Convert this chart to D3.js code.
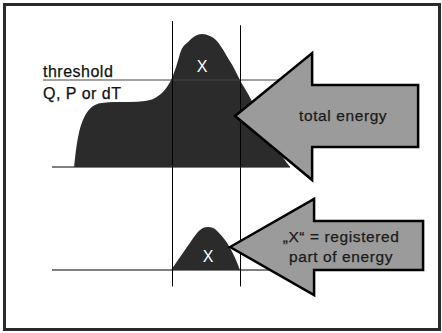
<!DOCTYPE html>
<html>
<head>
<meta charset="utf-8">
<script src="https://cdn.jsdelivr.net/npm/d3@7"></script>
<style>
  body { margin: 0; background: #fff; }
  svg text { font-family: "Liberation Sans", Arial, sans-serif; }
</style>
</head>
<body>
<div id="chart-area"></div>
<script>
// pulse over time (total energy)
var timeTop   = [9.2, 10, 11.3, 12.9, 15, 17.9, 20.8, 26.3, 32.5, 38.8, 42.9, 45.8, 47.9, 49.6, 51.7, 53.8, 56.7, 59.6, 62.5, 65.8, 68.3, 70.8, 73.3, 75.8, 78.3, 81.7, 85.8, 90, 94.2, 96.7, 99.2];
var energyTop = [0, 12.4, 25.5, 34.3, 40.9, 45.3, 46.7, 47.4, 47.4, 48.2, 50.4, 54, 58.4, 63.5, 73, 85, 91.2, 95.6, 97.1, 95.6, 92.7, 86.9, 79.6, 72.3, 63.5, 53.3, 40.1, 27, 13.1, 5.8, 0];

// registered part ("X")
var timeReg   = [49.6, 52.5, 55.4, 58.3, 60.8, 62.9, 65, 67.1, 69.6, 72.1, 74.2, 76.3, 78.3];
var energyReg = [0, 7.3, 14.6, 21.9, 27.7, 30.7, 31.4, 30.7, 27, 21.9, 16.1, 8.8, 0];

var threshold = 63.5;
var cutTimes = [49.8, 78.5];
var cutTops = [106.5, 103.5];
var thresholdLabels = ["threshold", "Q, P or dT"];
var arrowLabels = [["total energy"], ["\u201EX\u201C = registered", "part of energy"]];
var arrowTips = [[76.3, 37.2], [74.2, 16.8]];

var width = 442, height = 333;

var svg = d3.select("#chart-area").append("svg")
    .attr("width", width)
    .attr("height", height);

// scales: time across, energy up (two panels, same x)
var x = d3.scaleLinear().domain([0, 100]).range([52, 292]);
var yTop = d3.scaleLinear().domain([0, 100]).range([167, 30]);
var yBot = d3.scaleLinear().domain([0, 100]).range([270, 133]);

// frame
svg.append("rect")
    .attr("x", 4.5).attr("y", 4.5)
    .attr("width", 435).attr("height", 325)
    .attr("fill", "#fff")
    .attr("stroke", "#2a2a2a")
    .attr("stroke-width", 3);

// baselines
svg.append("line")
    .attr("x1", x(0)).attr("x2", x(99.2))
    .attr("y1", yTop(0)).attr("y2", yTop(0))
    .attr("stroke", "#000");
svg.append("line")
    .attr("x1", x(0)).attr("x2", x(100))
    .attr("y1", yBot(0)).attr("y2", yBot(0))
    .attr("stroke", "#000");

// areas
var topData = timeTop.map(function (t, i) { return {t: t, v: energyTop[i]}; });
var regData = timeReg.map(function (t, i) { return {t: t, v: energyReg[i]}; });

var areaTop = d3.area()
    .x(function (d) { return x(d.t); })
    .y0(yTop(0))
    .y1(function (d) { return yTop(d.v); })
    .curve(d3.curveMonotoneX);

var areaReg = d3.area()
    .x(function (d) { return x(d.t); })
    .y0(yBot(0))
    .y1(function (d) { return yBot(d.v); })
    .curve(d3.curveMonotoneX);

svg.append("path").datum(topData)
    .attr("d", areaTop)
    .attr("fill", "#2b2b2b");

svg.append("path").datum(regData)
    .attr("d", areaReg)
    .attr("fill", "#2b2b2b");

// threshold line
svg.append("line")
    .attr("x1", x(-3.75)).attr("x2", x(100))
    .attr("y1", yTop(threshold)).attr("y2", yTop(threshold))
    .attr("stroke", "#444");

// cut lines where pulse crosses threshold
svg.selectAll(".cut")
    .data(cutTimes)
    .enter().append("line")
    .attr("class", "cut")
    .attr("x1", function (d) { return Math.round(x(d)) + 0.5; })
    .attr("x2", function (d) { return Math.round(x(d)) + 0.5; })
    .attr("y1", function (d, i) { return yTop(cutTops[i]); })
    .attr("y2", yBot(-12))
    .attr("stroke", "#000");

// threshold text
svg.selectAll(".thr")
    .data(thresholdLabels)
    .enter().append("text")
    .attr("class", "thr")
    .attr("x", x(-3.75))
    .attr("y", function (d, i) { return yTop(threshold) - 3 + i * 22; })
    .attr("font-size", 16)
    .attr("letter-spacing", 0.5)
    .attr("fill", "#111")
    .attr("stroke", "#111").attr("stroke-width", 0.25)
    .text(function (d) { return d; });

// X marks
svg.append("text")
    .attr("x", x(62.5)).attr("y", 72)
    .attr("text-anchor", "middle")
    .attr("font-size", 16).attr("fill", "#fff")
    .text("X");
svg.append("text")
    .attr("x", x(65)).attr("y", 262)
    .attr("text-anchor", "middle")
    .attr("font-size", 16).attr("fill", "#fff")
    .text("X");

// arrows
var arrowShapes = [
    {headLen: 77, headUp: 63, headDown: 64, shaftUp: 31, shaftDown: 31, len: 183, textX: 108, textY: [5]},
    {headLen: 84, headUp: 48, headDown: 48, shaftUp: 26, shaftDown: 23, len: 193, textX: 111, textY: [-5, 15]}
];
var yScales = [yTop, yBot];

arrowShapes.forEach(function (a, i) {
    var tx = x(arrowTips[i][0]), ty = yScales[i](arrowTips[i][1]);
    var pts = [[0, 0], [a.headLen, -a.headUp], [a.headLen, -a.shaftUp], [a.len, -a.shaftUp],
               [a.len, a.shaftDown], [a.headLen, a.shaftDown], [a.headLen, a.headDown]];
    var g = svg.append("g").attr("transform", "translate(" + tx + "," + ty + ")");
    g.append("path")
        .attr("d", d3.line()(pts) + "Z")
        .attr("fill", "#9b9b9b")
        .attr("stroke", "#000")
        .attr("stroke-width", 2.5)
        .attr("stroke-linejoin", "miter");
    g.selectAll("text")
        .data(arrowLabels[i])
        .enter().append("text")
        .attr("x", a.textX)
        .attr("y", function (d, j) { return a.textY[j]; })
        .attr("text-anchor", "middle")
        .attr("font-size", 15.5)
        .attr("letter-spacing", 0.6)
        .attr("fill", "#1a1a1a")
        .attr("stroke", "#1a1a1a").attr("stroke-width", 0.25)
        .text(function (d) { return d; });
});
</script>
</body>
</html>
